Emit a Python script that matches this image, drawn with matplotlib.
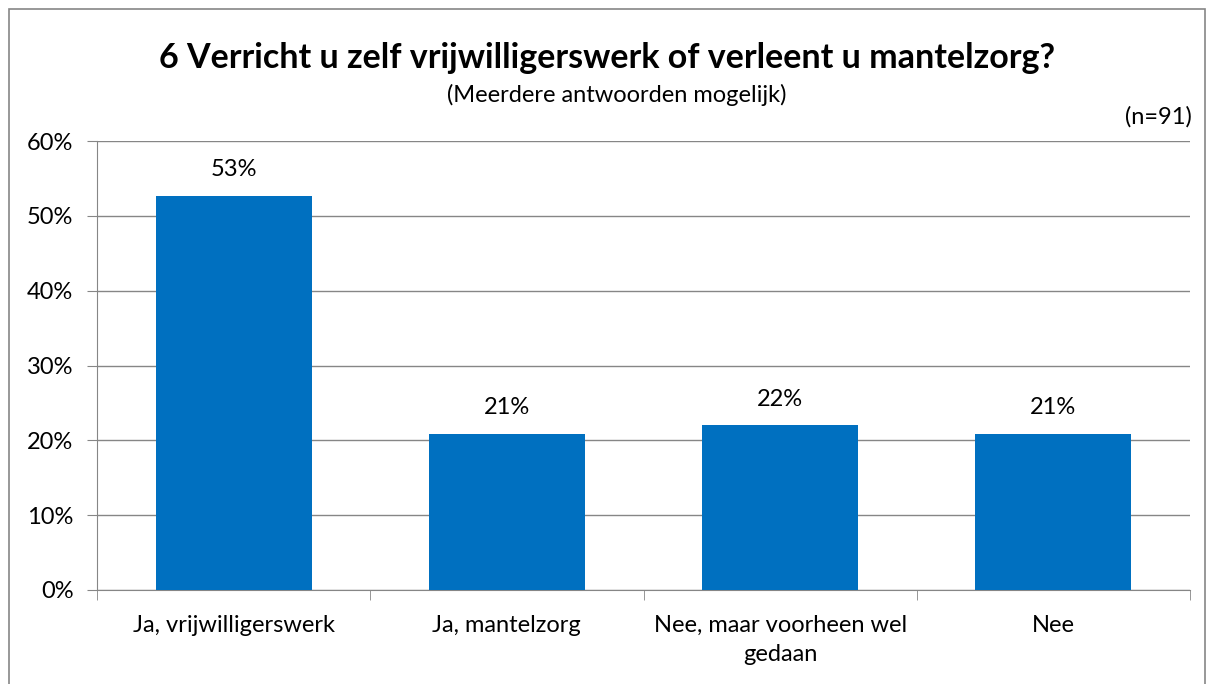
import matplotlib
matplotlib.use("Agg")
import matplotlib.pyplot as plt
from matplotlib.patches import Rectangle

plt.rcParams["font.family"] = ["Lato", "DejaVu Sans"]

categories = ["Ja, vrijwilligerswerk", "Ja, mantelzorg",
              "Nee, maar voorheen wel\ngedaan", "Nee"]
values = [52.7, 20.9, 22.0, 20.9]
labels = ["53%", "21%", "22%", "21%"]
yticks = [0, 10, 20, 30, 40, 50, 60]

BAR = "#0070C0"
GRID = "#868686"
FS = 17

W, H = 1214, 684
fig = plt.figure(figsize=(W / 100, H / 100), dpi=100, facecolor="white")
ax = fig.add_axes([97 / W, 1 - 590 / H, (1190 - 97) / W, (590 - 141) / H])

x = list(range(len(categories)))
ax.bar(x, values, width=0.57, color=BAR, zorder=3)
for xi, v, lab in zip(x, values, labels):
    ax.text(xi, v + 3.5, lab, ha="center", va="center", fontsize=FS, color="#000000")

ax.set_xlim(-0.5, len(categories) - 0.5)
ax.set_ylim(0, 60)
ax.set_yticks(yticks)
ax.set_yticklabels([f"{t}%" for t in yticks], fontsize=FS)
ax.set_xticks(x)
ax.set_xticklabels(categories, fontsize=FS, linespacing=1.45)
ax.tick_params(axis="x", length=0, pad=18)
ax.tick_params(axis="y", length=7, color=GRID, pad=10)
# category boundary ticks
ax.set_xticks([i - 0.5 for i in range(len(categories) + 1)], minor=True)
ax.tick_params(axis="x", which="minor", length=7, color=GRID)

ax.grid(True, axis="y", color=GRID, linewidth=1, zorder=0)
for s in ["top", "right"]:
    ax.spines[s].set_visible(False)
ax.spines["left"].set_color(GRID)
ax.spines["bottom"].set_color(GRID)

fig.text(607 / W, 1 - 58 / H, "6 Verricht u zelf vrijwilligerswerk of verleent u mantelzorg?",
         ha="center", va="center", fontsize=24.5, fontweight="bold")
fig.text(617 / W, 1 - 95 / H, "(Meerdere antwoorden mogelijk)",
         ha="center", va="center", fontsize=FS)
fig.text(1192 / W, 1 - 117 / H, "(n=91)", ha="right", va="center", fontsize=FS)

fig.patches.append(Rectangle((9 / W, -0.01), (1205 - 9) / W, 1 - 9 / H + 0.01,
                             transform=fig.transFigure, fill=False,
                             edgecolor=GRID, linewidth=1.2))

fig.savefig("out.png", dpi=100)
